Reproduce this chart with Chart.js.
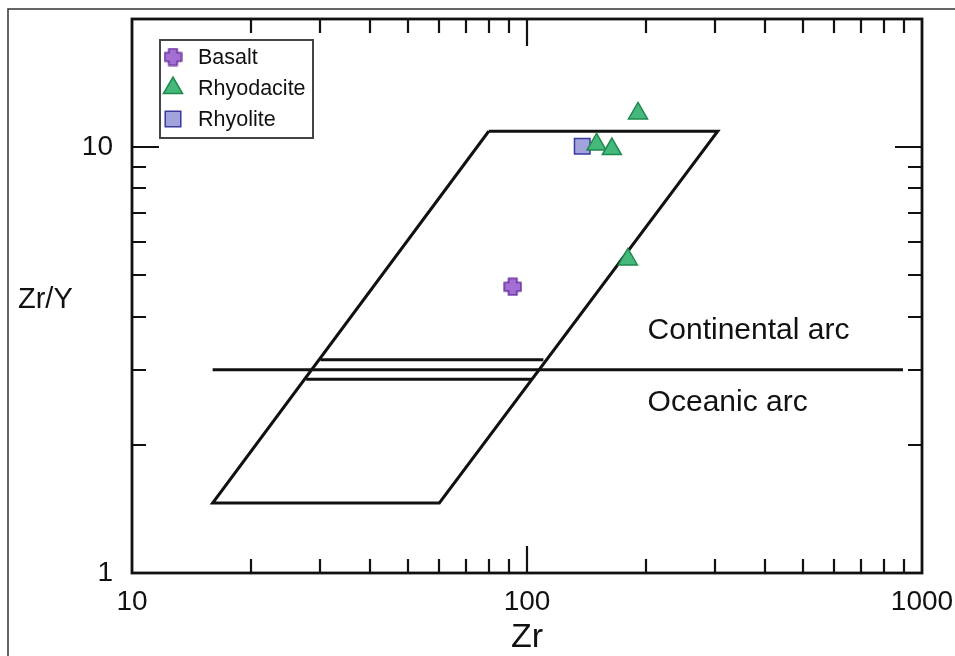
<!DOCTYPE html>
<html>
<head>
<meta charset="utf-8">
<script src="https://cdn.jsdelivr.net/npm/chart.js@4.4.1/dist/chart.umd.min.js"></script>
<style>
  html, body { margin: 0; padding: 0; background: #fff; }
  canvas { display: block; }
</style>
</head>
<body>
<canvas id="chart" width="955" height="656"></canvas>
<script>
// samples (Zr ppm, Zr/Y)
const basalt = [{x: 92, y: 4.7}];
const rhyodacite = [{x: 191, y: 12.0}, {x: 150, y: 10.15}, {x: 164, y: 9.9}, {x: 180, y: 5.45}];
const rhyolite = [{x: 138, y: 10.05}];

// field boundaries
const arcField = [{x: 80, y: 10.9}, {x: 304, y: 10.9}, {x: 60, y: 1.46}, {x: 16, y: 1.46}, {x: 80, y: 10.9}];
const arcDivide = [{x: 16, y: 3}, {x: 895, y: 3}];
const upperBand = [{x: 30, y: 3.17}, {x: 110, y: 3.17}];
const lowerBand = [{x: 27.6, y: 2.85}, {x: 103, y: 2.85}];

const fieldLabels = ['Continental arc', 'Oceanic arc'];

// axes
const xTicks = [10, 100, 1000];
const xTickLabels = ['10', '100', '1000'];
const xMinor = [20, 30, 40, 50, 60, 70, 80, 90, 200, 300, 400, 500, 600, 700, 800, 900];
const yTicks = [1, 10];
const yTickLabels = ['1', '10'];
const yMinor = [2, 3, 4, 5, 6, 7, 8, 9];

const FONT = 'Liberation Sans, Arial, sans-serif';

// filled plus marker for basalt
function plusIcon(size, fill, stroke) {
    const c = document.createElement('canvas');
    c.width = c.height = size;
    const g = c.getContext('2d');
    const m = size / 2, w = size * 0.22, e = size / 2 - 1.2;
    const pts = [[m - w, m - e], [m + w, m - e], [m + w, m - w], [m + e, m - w], [m + e, m + w], [m + w, m + w],
                 [m + w, m + e], [m - w, m + e], [m - w, m + w], [m - e, m + w], [m - e, m - w], [m - w, m - w]];
    g.beginPath();
    pts.forEach((p, i) => i ? g.lineTo(p[0], p[1]) : g.moveTo(p[0], p[1]));
    g.closePath();
    g.fillStyle = fill;
    g.fill();
    g.lineWidth = 1.6;
    g.strokeStyle = stroke;
    g.stroke();
    return c;
}
const plusImg = plusIcon(19, '#a36fd3', '#6b2fa0');

function boundary(data) {
    return {
        data: data,
        showLine: true,
        borderColor: '#111',
        borderWidth: 3,
        pointRadius: 0,
        pointHoverRadius: 0,
        tension: 0,
        fill: false
    };
}

const decor = {
    id: 'decor',
    beforeDraw(chart) {
        const ctx = chart.ctx;
        ctx.save();
        ctx.strokeStyle = '#333';
        ctx.lineWidth = 1.5;
        ctx.beginPath();
        ctx.moveTo(8, 656);
        ctx.lineTo(8, 9);
        ctx.lineTo(955, 9);
        ctx.stroke();
        ctx.restore();
    },
    afterDraw(chart) {
        const {ctx, chartArea: a, scales: {x, y}} = chart;
        ctx.save();

        // frame
        ctx.strokeStyle = '#111';
        ctx.lineWidth = 2.8;
        ctx.strokeRect(a.left, a.top, a.right - a.left, a.bottom - a.top);

        // inward ticks on all four sides
        ctx.lineWidth = 2.2;
        ctx.beginPath();
        const xt = (vals, len) => vals.forEach(v => {
            const px = Math.round(x.getPixelForValue(v));
            if (px <= a.left + 1 || px >= a.right - 1) return;
            ctx.moveTo(px, a.bottom); ctx.lineTo(px, a.bottom - len);
            ctx.moveTo(px, a.top); ctx.lineTo(px, a.top + len);
        });
        const yt = (vals, len) => vals.forEach(v => {
            const py = Math.round(y.getPixelForValue(v));
            if (py <= a.top + 1 || py >= a.bottom - 1) return;
            ctx.moveTo(a.left, py); ctx.lineTo(a.left + len, py);
            ctx.moveTo(a.right, py); ctx.lineTo(a.right - len, py);
        });
        xt(xTicks, 27); xt(xMinor, 14);
        yt(yTicks, 27); yt(yMinor, 14);
        ctx.stroke();

        // axis titles
        ctx.fillStyle = '#111';
        ctx.textBaseline = 'middle';
        ctx.textAlign = 'left';
        ctx.font = '29px ' + FONT;
        ctx.fillText('Zr/Y', 18, 300);
        ctx.textAlign = 'center';
        ctx.font = '34px ' + FONT;
        ctx.fillText('Zr', (a.left + a.right) / 2, 638);

        // field labels
        ctx.textAlign = 'left';
        ctx.font = '30px ' + FONT;
        ctx.fillText(fieldLabels[0], x.getPixelForValue(202), y.getPixelForValue(3.71));
        ctx.fillText(fieldLabels[1], x.getPixelForValue(202), y.getPixelForValue(2.515));

        // legend
        const lx = a.left + 28, ly = a.top + 21;
        ctx.strokeStyle = '#444';
        ctx.lineWidth = 2;
        ctx.strokeRect(lx, ly, 153, 98);
        ctx.font = '21.5px ' + FONT;
        [0, 1, 2].forEach((i, k) => {
            const ds = chart.data.datasets[i];
            const cy = ly + 17 + k * 31;
            ctx.fillStyle = ds.backgroundColor;
            ctx.strokeStyle = ds.borderColor;
            ctx.lineWidth = ds.borderWidth;
            Chart.helpers.drawPoint(ctx, {pointStyle: ds.pointStyle, radius: ds.pointRadius, borderWidth: ds.borderWidth, rotation: 0}, lx + 13, cy);
            ctx.fillStyle = '#111';
            ctx.fillText(ds.label, lx + 38, cy + 1);
        });
        ctx.restore();
    }
};

new Chart(document.getElementById('chart'), {
    type: 'scatter',
    data: {
        datasets: [
            {label: 'Basalt', data: basalt, pointStyle: plusImg, pointRadius: 9, backgroundColor: '#a36fd3', borderColor: '#6b2fa0', borderWidth: 1.5},
            {label: 'Rhyodacite', data: rhyodacite, pointStyle: 'triangle', pointRadius: 11, backgroundColor: '#45b97c', borderColor: '#1d8a4c', borderWidth: 1.5},
            {label: 'Rhyolite', data: rhyolite, pointStyle: 'rect', pointRadius: 11, backgroundColor: '#a2a3dc', borderColor: '#3a3a9e', borderWidth: 1.5},
            boundary(arcField),
            boundary(arcDivide),
            boundary(upperBand),
            boundary(lowerBand)
        ]
    },
    options: {
        responsive: false,
        animation: false,
        layout: {padding: {top: 19, right: 33, left: 0, bottom: 0}},
        plugins: {legend: {display: false}, tooltip: {enabled: false}},
        scales: {
            x: {
                type: 'logarithmic',
                min: 10,
                max: 1000,
                grid: {display: false, drawTicks: false},
                border: {display: false},
                afterBuildTicks: s => { s.ticks = xTicks.map(v => ({value: v})); },
                afterFit: s => { s.height = 83; s.paddingLeft = 0; s.paddingRight = 0; },
                ticks: {
                    autoSkip: false,
                    maxRotation: 0,
                    padding: 12,
                    color: '#111',
                    font: {family: FONT, size: 28},
                    callback: (v, i) => xTickLabels[i]
                }
            },
            y: {
                type: 'logarithmic',
                min: 1,
                max: 20,
                grid: {display: false, drawTicks: false},
                border: {display: false},
                afterBuildTicks: s => { s.ticks = yTicks.map(v => ({value: v})); },
                afterFit: s => { s.width = 132; s.paddingTop = 0; s.paddingBottom = 0; },
                ticks: {
                    autoSkip: false,
                    padding: 19,
                    color: '#111',
                    font: {family: FONT, size: 28},
                    callback: (v, i) => yTickLabels[i]
                }
            }
        }
    },
    plugins: [decor]
});
</script>
</body>
</html>
